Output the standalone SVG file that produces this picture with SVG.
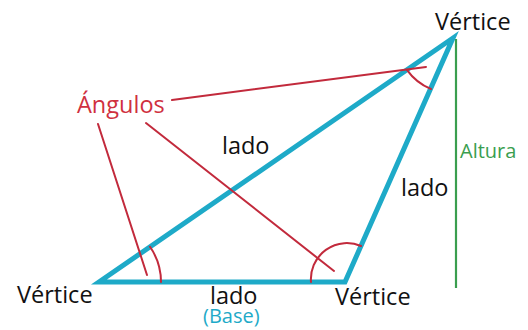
<svg xmlns="http://www.w3.org/2000/svg" width="528" height="330" viewBox="0 0 528 330">
<style>
.t{font-family:"Open Sans","Noto Sans",sans-serif;font-size:23.5px;fill:#111}
.red{stroke:#c22a3c;stroke-width:2;fill:none;stroke-linecap:round}
.tri{stroke:#1eaac8;stroke-width:5;fill:none;stroke-linejoin:miter}
</style>
<rect width="528" height="330" fill="#fff"/>
<g id="connectors">
<line id="altura-line" x1="456" y1="39" x2="456" y2="288" stroke="#3a9e4f" stroke-width="2.2"/>
<path id="triangle" class="tri" d="M99,282 L345,282 L453,38 Z"/>
<line class="red" x1="172" y1="100" x2="426" y2="67"/>
<line class="red" x1="98" y1="124" x2="147" y2="275"/>
<line class="red" x1="146" y1="123" x2="334" y2="271"/>
<path class="red" d="M150,246.8 A62,62 0 0 1 161,282"/>
<path class="red" d="M311,282 A36,36 0 0 1 361,246"/>
<path class="red" d="M406.9,69.8 A56,56 0 0 0 431,89"/>
</g>
<g id="vertex-top"><text class="t" x="435" y="30">Vértice</text></g>
<g id="vertex-left"><text class="t" x="17" y="303">Vértice</text></g>
<g id="vertex-right"><text class="t" x="335" y="305">Vértice</text></g>
<g id="angulos"><text class="t" x="77" y="113" style="fill:#d0303f">Ángulos</text></g>
<g id="lado-top"><text class="t" x="222" y="154">lado</text></g>
<g id="lado-right"><text class="t" x="401" y="196">lado</text></g>
<g id="lado-bottom"><text class="t" x="210" y="304">lado</text></g>
<g id="base"><text class="t" x="203" y="323" style="fill:#1eaac8;font-size:20px">(Base)</text></g>
<g id="altura"><text class="t" x="460" y="158" style="fill:#3a9e4f;font-size:20px">Altura</text></g>
</svg>
